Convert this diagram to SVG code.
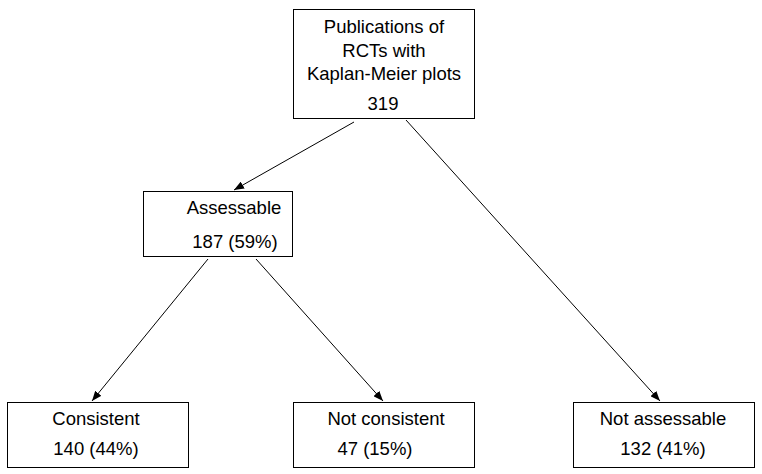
<svg xmlns="http://www.w3.org/2000/svg" width="762" height="474" viewBox="0 0 762 474">
<style>
.box{fill:#fff;stroke:#000;stroke-width:1}
.t{font-family:"Liberation Sans",Arial,sans-serif;font-size:18.5px;fill:#000;text-anchor:middle}
.c{stroke:#000;stroke-width:1;fill:none;marker-end:url(#ah)}
</style>
<defs>
<marker id="ah" viewBox="0 0 10 8" refX="10" refY="4" markerWidth="10" markerHeight="8" markerUnits="userSpaceOnUse" orient="auto">
<path d="M0,0 L10,4 L0,8 z" fill="#000"/>
</marker>
</defs>
<rect width="762" height="474" fill="#fff"/>
<g id="connectors">
<line class="c" x1="354" y1="122" x2="234" y2="190"/>
<line class="c" x1="406" y1="120" x2="660" y2="401"/>
<line class="c" x1="208" y1="259" x2="92" y2="401"/>
<line class="c" x1="256" y1="259" x2="383" y2="401"/>
</g>
<g id="n-publications">
<rect class="box" x="293.5" y="9.5" width="181" height="109"/>
<text class="t" x="384" y="33">Publications of</text>
<text class="t" x="384" y="57">RCTs with</text>
<text class="t" x="384" y="80">Kaplan-Meier plots</text>
<text class="t" x="383" y="110">319</text>
</g>
<g id="n-assessable">
<rect class="box" x="143.5" y="191.5" width="149" height="65"/>
<text class="t" x="234" y="214">Assessable</text>
<text class="t" x="235" y="248">187 (59%)</text>
</g>
<g id="n-consistent">
<rect class="box" x="7.5" y="402.5" width="181" height="65"/>
<text class="t" x="96" y="425">Consistent</text>
<text class="t" x="96" y="455">140 (44%)</text>
</g>
<g id="n-notconsistent">
<rect class="box" x="293.5" y="402.5" width="181" height="65"/>
<text class="t" x="386" y="425">Not consistent</text>
<text class="t" x="375" y="455">47 (15%)</text>
</g>
<g id="n-notassessable">
<rect class="box" x="573.5" y="402.5" width="181" height="65"/>
<text class="t" x="663" y="425">Not assessable</text>
<text class="t" x="663" y="455">132 (41%)</text>
</g>
</svg>
